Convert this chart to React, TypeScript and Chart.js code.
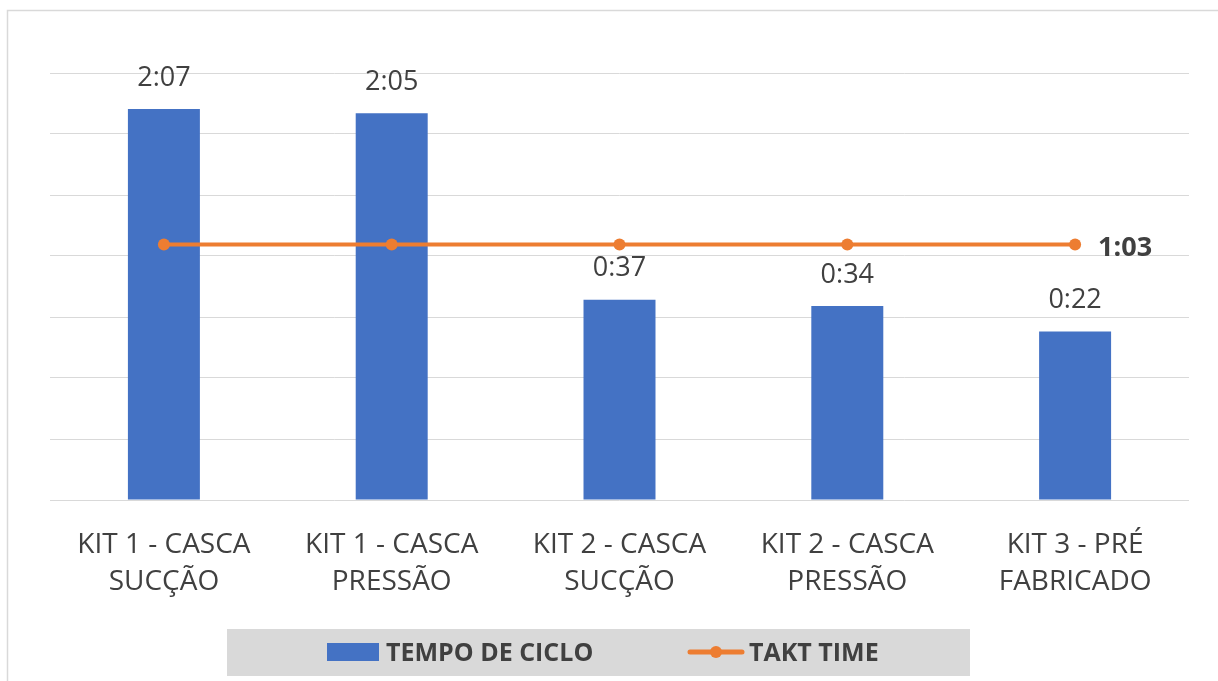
import { useEffect, useRef } from 'react';
import { Chart, registerables } from 'chart.js';

Chart.register(...registerables);

// Category labels (two lines each)
const categories: string[][] = [
  ['KIT 1 - CASCA', 'SUCÇÃO'],
  ['KIT 1 - CASCA', 'PRESSÃO'],
  ['KIT 2 - CASCA', 'SUCÇÃO'],
  ['KIT 2 - CASCA', 'PRESSÃO'],
  ['KIT 3 - PRÉ', 'FABRICADO'],
];

// Series values, in seconds
const cycleTimeSeconds = [127, 125, 37, 34, 22];
const taktTimeSeconds = [63, 63, 63, 63, 63];

const seriesNames = ['TEMPO DE CICLO', 'TAKT TIME'];

// Horizontal gridlines: multiples of the grid step (seconds)
const gridStepSeconds = 28.8;
const gridIndexes = [-2, -1, 0, 1, 2, 3, 4, 5];

const BLUE = '#4472C4';
const ORANGE = '#ED7D31';
const TEXT = '#404040';
const GRID = '#d9d9d9';
const FONT = '"Open Sans", Lato, sans-serif';

const yMin = gridIndexes[0] * gridStepSeconds;
const yMax = gridIndexes[gridIndexes.length - 1] * gridStepSeconds;

const asMinSec = (s: number) =>
  `${Math.floor(s / 60)}:${String(Math.round(s % 60)).padStart(2, '0')}`;

const decorations = {
  id: 'decorations',
  beforeDraw(chart: any) {
    const { ctx, width, height } = chart;
    ctx.save();
    ctx.fillStyle = '#ffffff';
    ctx.fillRect(0, 0, width, height);
    // chart frame (left and top edges)
    ctx.strokeStyle = GRID;
    ctx.lineWidth = 1.5;
    ctx.beginPath();
    ctx.moveTo(7.5, height);
    ctx.lineTo(7.5, 10.5);
    ctx.lineTo(width, 10.5);
    ctx.stroke();
    ctx.restore();
  },
  afterDatasetsDraw(chart: any) {
    const { ctx } = chart;
    ctx.save();
    // value labels above the bars
    const barMeta = chart.getDatasetMeta(1);
    ctx.fillStyle = TEXT;
    ctx.font = `27px ${FONT}`;
    ctx.textAlign = 'center';
    ctx.textBaseline = 'middle';
    barMeta.data.forEach((el: any, i: number) => {
      ctx.fillText(asMinSec(cycleTimeSeconds[i]), el.x, el.y - 31);
    });
    // takt time label to the right of the last point
    const lineMeta = chart.getDatasetMeta(0);
    const last = lineMeta.data.length - 1;
    const p = lineMeta.data[last];
    ctx.font = `bold 27px ${FONT}`;
    ctx.textAlign = 'left';
    ctx.fillText(asMinSec(taktTimeSeconds[last]), p.x + 23, p.y + 4);
    ctx.restore();
  },
  afterDraw(chart: any) {
    const { ctx } = chart;
    ctx.save();
    // legend panel
    ctx.fillStyle = GRID;
    ctx.fillRect(227, 629, 743, 47);
    const cy = 652;
    // bar swatch
    ctx.fillStyle = BLUE;
    ctx.fillRect(327, 643, 52, 18);
    // line swatch with marker
    ctx.strokeStyle = ORANGE;
    ctx.lineWidth = 5;
    ctx.lineCap = 'round';
    ctx.beginPath();
    ctx.moveTo(690, cy);
    ctx.lineTo(742, cy);
    ctx.stroke();
    ctx.fillStyle = ORANGE;
    ctx.beginPath();
    ctx.arc(716, cy, 6, 0, Math.PI * 2);
    ctx.fill();
    // legend text
    ctx.fillStyle = TEXT;
    ctx.font = `bold 25px ${FONT}`;
    ctx.textAlign = 'left';
    ctx.textBaseline = 'middle';
    ctx.fillText(seriesNames[0], 386, cy + 2);
    ctx.fillText(seriesNames[1], 749, cy + 2);
    ctx.restore();
  },
};

export default function App() {
  const canvasRef = useRef<HTMLCanvasElement | null>(null);

  useEffect(() => {
    const canvas = canvasRef.current;
    if (!canvas) return;
    const chart = new Chart(canvas, {
      type: 'bar',
      data: {
        labels: categories as any,
        datasets: [
          {
            type: 'line',
            label: seriesNames[1],
            data: taktTimeSeconds,
            borderColor: ORANGE,
            backgroundColor: ORANGE,
            borderWidth: 4,
            pointRadius: 6,
            pointBackgroundColor: ORANGE,
            pointBorderWidth: 0,
            tension: 0,
            order: 0,
          } as any,
          {
            type: 'bar',
            label: seriesNames[0],
            data: cycleTimeSeconds,
            backgroundColor: BLUE,
            base: yMin,
            barPercentage: 0.316,
            categoryPercentage: 1,
            order: 1,
          } as any,
        ],
      },
      options: {
        animation: false,
        responsive: true,
        maintainAspectRatio: false,
        layout: { padding: { left: 50, right: 29, top: 73, bottom: 0 } },
        plugins: {
          legend: { display: false },
          tooltip: { enabled: false },
        },
        scales: {
          x: {
            grid: { display: false },
            border: { display: false },
            ticks: {
              color: TEXT,
              font: { family: FONT, size: 28, lineHeight: 1.34 },
              padding: 18,
              maxRotation: 0,
              autoSkip: false,
            },
            afterFit(scale: any) {
              scale.height = 181;
            },
          },
          y: {
            min: yMin,
            max: yMax,
            afterBuildTicks(scale: any) {
              scale.ticks = gridIndexes.map((i) => ({ value: i * gridStepSeconds }));
            },
            ticks: { display: false },
            grid: { color: GRID, lineWidth: 1, drawTicks: false },
            border: { display: false },
          },
        },
      },
      plugins: [decorations],
    });
    return () => chart.destroy();
  }, []);

  return (
    <div style={{ position: 'fixed', left: 0, top: 0, width: 1218, height: 681 }}>
      <canvas ref={canvasRef} />
    </div>
  );
}
